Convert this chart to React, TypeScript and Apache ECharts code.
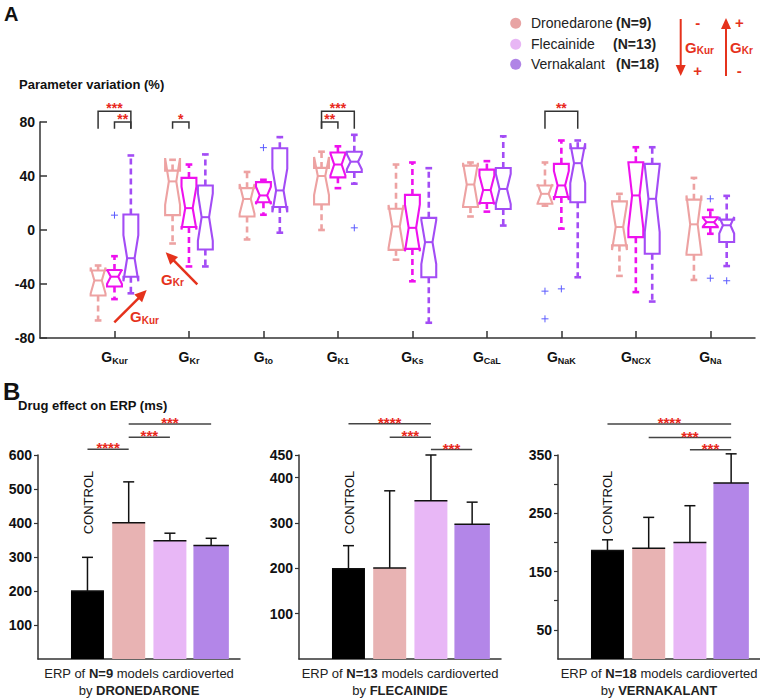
import React, { useEffect, useRef } from 'react';
import * as echarts from 'echarts';

const FONT = '"Liberation Sans", Arial, Helvetica, sans-serif';

// ---------- Panel A data ----------
const paramLabels = ['Kur', 'Kr', 'to', 'K1', 'Ks', 'CaL', 'NaK', 'NCX', 'Na'];
const drugNames = ['Dronedarone', 'Flecainide', 'Vernakalant'];
const drugN = [9, 13, 18];
// [min whisker, q1, median, q3, max whisker] per parameter
const dronedaroneStats = [
  [-67, -48.5, -37.4, -30, -26.3],
  [-10, 11, 36, 44, 52],
  [-7, 10, 23, 31, 43],
  [0, 19, 40, 46, 58],
  [-22, -14.7, 2.6, 15.7, 48.5],
  [10, 17, 33.7, 47.7, 50],
  [18, 19.4, 26.8, 33, 50],
  [-34, -11.4, 2.2, 21.2, 26.8],
  [-37, -18.3, 4.2, 22.5, 38.6],
];
const flecainideStats = [
  [-51.2, -41.9, -34.6, -29.6, -19.4],
  [-27, 2.2, 16.2, 38.6, 48.5],
  [11.3, 20.6, 25.6, 35.5, 37.2],
  [31, 39, 48.5, 57.4, 62],
  [-38, -14, 1.6, 26, 50],
  [13.6, 20, 29.6, 44.7, 51],
  [1, 24.4, 33, 49, 66.3],
  [-46, -5.3, 25.6, 50.2, 61.3],
  [-2.8, 2.1, 5.8, 9.5, 14.9],
];
const vernakalantStats = [
  [-46.9, -34.6, -20.9, 11.5, 55.2],
  [-27, -14.4, 9.5, 33, 56],
  [-2, 17, 29.3, 60.6, 68.8],
  [34.3, 43, 50.6, 58, 70.5],
  [-68.7, -35, -9, 9, 45.8],
  [3.3, 15.6, 30.4, 45.9, 69.4],
  [-35, 20.6, 49.5, 60.6, 66.3],
  [-53, -17.6, 23.1, 49, 61.3],
  [-26.7, -8.9, 3.5, 7.7, 25.3],
];
// outliers: [parameter index, value]
const dronedaroneOutliers = [[6, -45.3], [6, -65.8]];
const flecainideOutliers = [[0, 11], [2, 61], [6, -43.6], [8, 23.1], [8, -35.7]];
const vernakalantOutliers = [[3, 1.6], [8, -37.6]];
// significance brackets: [parameter index, drug from, drug to]
const bracketPairs = [[0, 0, 2], [0, 1, 2], [1, 0, 1], [3, 0, 2], [3, 0, 1], [6, 0, 2]];
const bracketTops = [88, 80, 80, 88, 80, 88];
const bracketStars = ['***', '**', '*', '***', '**', '**'];
const yTicksA = [-80, -40, 0, 40, 80];

// ---------- Panel B data ----------
const erpCategories = ['CONTROL', 'Dronedarone', 'Flecainide', 'Vernakalant'];
const erpDronedaroneMean = [200, 401, 348, 334];
const erpDronedaroneSD = [99, 120, 22, 21];
const erpFlecainideMean = [199, 201, 349, 297];
const erpFlecainideSD = [51, 170, 101, 49];
const erpVernakalantMean = [186, 190, 200, 302];
const erpVernakalantSD = [18.5, 53, 63, 50];
const erpDronedaroneTicks = [100, 200, 300, 400, 500, 600];
const erpFlecainideTicks = [100, 200, 300, 400, 450];
const erpVernakalantTicks = [50, 100, 150, 200, 250, 300, 350];
const erpVernakalantLabels = [50, 150, 250, 350];
const sigDronedarone = { pairs: [[0, 1], [1, 2], [1, 3]], y: [617, 652, 691], stars: ['****', '***', '***'] };
const sigFlecainide = { pairs: [[0, 2], [1, 2], [2, 3]], y: [519, 489, 462], stars: ['****', '***', '***'] };
const sigVernakalant = { pairs: [[0, 3], [1, 3], [2, 3]], y: [403, 380, 359], stars: ['****', '***', '***'] };

// ---------- styles ----------
const boxColors = ['#eda2a2', '#ee11ee', '#a34cf5'];
const legendColors = ['#e8a4a4', '#e8b6f5', '#b084e6'];
const barColors = ['#000000', '#e8b3b3', '#e8b7f6', '#b386e8'];
const offsets = [-0.22, 0, 0.22];
const RED = '#e5321c';
const STAR = '#e8281c';
const AXIS = '#333';
const TXT = '#111';

function boxSeries(stats: number[][], n: number, di: number) {
  const color = boxColors[di];
  return {
    type: 'custom',
    name: drugNames[di],
    xAxisIndex: 0,
    yAxisIndex: 0,
    clip: false,
    data: stats.map((s, i) => [i + 1 + offsets[di], ...s]),
    encode: { x: 0, y: [1, 2, 3, 4, 5] },
    renderItem: (params: any, api: any) => {
      const x = api.value(0), mn = api.value(1), q1 = api.value(2), md = api.value(3), q3 = api.value(4), mx = api.value(5);
      const hw = 0.1, cw = 0.045;
      const d = (1.57 * (q3 - q1)) / Math.sqrt(n);
      const nlo = md - d, nhi = md + d;
      const P = (a: number, b: number) => api.coord([a, b]);
      const pts = [P(x - hw, q1), P(x - hw, nlo), P(x - hw / 2, md), P(x - hw, nhi), P(x - hw, q3),
        P(x + hw, q3), P(x + hw, nhi), P(x + hw / 2, md), P(x + hw, nlo), P(x + hw, q1)];
      const ln = (a: number[], b: number[], w: number, dash?: boolean) => {
        const style: any = { stroke: color, lineWidth: w };
        if (dash) style.lineDash = [6, 4];
        return { type: 'line', shape: { x1: a[0], y1: a[1], x2: b[0], y2: b[1] }, style };
      };
      return {
        type: 'group',
        children: [
          ln(P(x, q3), P(x, mx), 2.6, true),
          ln(P(x, q1), P(x, mn), 2.6, true),
          ln(P(x - cw, mx), P(x + cw, mx), 2.6),
          ln(P(x - cw, mn), P(x + cw, mn), 2.6),
          { type: 'polygon', shape: { points: pts }, style: { fill: 'none', stroke: color, lineWidth: 2.1 } },
          ln(P(x - hw / 2, md), P(x + hw / 2, md), 2),
        ],
      };
    },
  };
}

function outlierSeries(list: number[][], di: number) {
  return {
    type: 'custom',
    xAxisIndex: 0,
    yAxisIndex: 0,
    data: list.map((o) => [o[0] + 1 + offsets[di], o[1]]),
    encode: { x: 0, y: 1 },
    renderItem: (params: any, api: any) => {
      const p = api.coord([api.value(0), api.value(1)]);
      const s = 3.5;
      const st = { stroke: '#5b5bff', lineWidth: 1 };
      return {
        type: 'group',
        children: [
          { type: 'line', shape: { x1: p[0] - s, y1: p[1], x2: p[0] + s, y2: p[1] }, style: st },
          { type: 'line', shape: { x1: p[0], y1: p[1] - s, x2: p[0], y2: p[1] + s }, style: st },
        ],
      };
    },
  };
}

function bracketSeries() {
  return {
    type: 'custom',
    xAxisIndex: 0,
    yAxisIndex: 0,
    clip: false,
    data: bracketPairs.map((b, i) => [b[0] + 1 + offsets[b[1]], b[0] + 1 + offsets[b[2]], bracketTops[i], 75]),
    encode: { x: [0, 1], y: [2, 3] },
    renderItem: (params: any, api: any) => {
      const a = api.coord([api.value(0), api.value(2)]);
      const b = api.coord([api.value(1), api.value(2)]);
      const a2 = api.coord([api.value(0), api.value(3)]);
      const b2 = api.coord([api.value(1), api.value(3)]);
      return {
        type: 'group',
        children: [
          { type: 'polyline', shape: { points: [a2, a, b, b2] }, style: { stroke: '#333', lineWidth: 1.5, fill: 'none' } },
          {
            type: 'text', x: (a[0] + b[0]) / 2, y: a[1] - 3.5,
            style: { text: bracketStars[params.dataIndex], fill: STAR, fontSize: 14, fontWeight: 'bold', fontFamily: FONT, align: 'center', verticalAlign: 'middle' },
          },
        ],
      };
    },
  };
}

function barSeries(k: number, means: number[], sds: number[]) {
  return {
    type: 'custom',
    xAxisIndex: k,
    yAxisIndex: k,
    clip: false,
    data: means.map((m, i) => [i + 1, m, m + sds[i]]),
    encode: { x: 0, y: [1, 2] },
    renderItem: (params: any, api: any) => {
      const i = params.dataIndex;
      const x = api.value(0), m = api.value(1), top = api.value(2);
      const hw = i === 3 ? 0.43 : 0.4;
      const p0 = api.coord([x - hw, m]);
      const p1 = api.coord([x + hw, 0]);
      const c = api.coord([x, m]);
      const t = api.coord([x, top]);
      const ls = { stroke: '#111', lineWidth: 1.5 };
      return {
        type: 'group',
        children: [
          { type: 'rect', shape: { x: p0[0], y: p0[1], width: p1[0] - p0[0], height: p1[1] - p0[1] }, style: { fill: barColors[i] } },
          { type: 'line', shape: { x1: p0[0], y1: p0[1], x2: p1[0], y2: p0[1] }, style: ls },
          { type: 'line', shape: { x1: c[0], y1: c[1], x2: t[0], y2: t[1] }, style: ls },
          { type: 'line', shape: { x1: t[0] - 5.5, y1: t[1], x2: t[0] + 5.5, y2: t[1] }, style: ls },
        ],
      };
    },
  };
}

function sigSeries(k: number, sig: { pairs: number[][]; y: number[]; stars: string[] }) {
  return {
    type: 'custom',
    xAxisIndex: k,
    yAxisIndex: k,
    clip: false,
    data: sig.pairs.map((p, i) => [p[0] + 1, p[1] + 1, sig.y[i]]),
    encode: { x: [0, 1], y: 2 },
    renderItem: (params: any, api: any) => {
      const a = api.coord([api.value(0), api.value(2)]);
      const b = api.coord([api.value(1), api.value(2)]);
      return {
        type: 'group',
        children: [
          { type: 'line', shape: { x1: a[0], y1: a[1], x2: b[0], y2: b[1] }, style: { stroke: '#444', lineWidth: 1.5 } },
          {
            type: 'text', x: (a[0] + b[0]) / 2, y: a[1] - 1.5,
            style: { text: sig.stars[params.dataIndex], fill: STAR, fontSize: 15, fontWeight: 'bold', fontFamily: FONT, align: 'center', verticalAlign: 'middle' },
          },
        ],
      };
    },
  };
}

function arrow(x1: number, y1: number, x2: number, y2: number, lw: number, hl: number, hw: number) {
  const dx = x2 - x1, dy = y2 - y1, L = Math.hypot(dx, dy), ux = dx / L, uy = dy / L;
  const bx = x2 - ux * hl, by = y2 - uy * hl;
  return [
    { type: 'line', shape: { x1, y1, x2: bx + ux * 1, y2: by + uy * 1 }, style: { stroke: RED, lineWidth: lw } },
    { type: 'polygon', shape: { points: [[x2, y2], [bx - uy * hw, by + ux * hw], [bx + uy * hw, by - ux * hw]] }, style: { fill: RED } },
  ];
}

// rich text for axis labels (label model uses "color")
const axisRich = (g: number, s: number, color: string) => ({
  g: { fontSize: g, fontWeight: 'bold', fontFamily: FONT, color, lineHeight: g + 2 },
  s: { fontSize: s, fontWeight: 'bold', fontFamily: FONT, color, lineHeight: s + 1, verticalAlign: 'bottom' },
});
// rich text for graphic elements (zrender uses "fill")
const gfxRich = (g: number, s: number, color: string) => ({
  g: { fontSize: g, fontWeight: 'bold', fontFamily: FONT, fill: color, lineHeight: g + 2 },
  s: { fontSize: s, fontWeight: 'bold', fontFamily: FONT, fill: color, lineHeight: s + 1, verticalAlign: 'bottom' },
});

function bAxes(k: number, max: number, ticks: number[], labels: number[], drug: string, n: number) {
  const x = {
    type: 'value', gridIndex: k, min: -0.2, max: 4.7,
    splitLine: { show: false },
    axisLine: { onZero: false, lineStyle: { color: AXIS, width: 1.5 } },
    axisTick: { show: false },
    axisLabel: { show: false },
    name: `{n|ERP of }{b|N=${n}}{n| models cardioverted}\n{n|by }{b|${drug.toUpperCase()}}`,
    nameLocation: 'middle',
    nameGap: 6,
    nameTextStyle: {
      rich: {
        n: { fontSize: 13, fontFamily: FONT, color: '#222', lineHeight: 17 },
        b: { fontSize: 13, fontFamily: FONT, fontWeight: 'bold', color: '#222', lineHeight: 17 },
      },
    },
  };
  const y = {
    type: 'value', gridIndex: k, min: 0, max,
    splitLine: { show: false },
    axisLine: { show: true, onZero: false, lineStyle: { color: AXIS, width: 1.5 } },
    axisTick: { show: true, length: 4, customValues: ticks, lineStyle: { color: AXIS, width: 1.2 } },
    axisLabel: { customValues: labels, margin: 6, fontSize: 14, fontWeight: 'bold', fontFamily: FONT, color: TXT },
  };
  return { x, y };
}

export default function App() {
  const ref = useRef<HTMLDivElement>(null);
  useEffect(() => {
    if (!ref.current) return;
    const chart = echarts.init(ref.current, null, { renderer: 'svg' });

    const b1 = bAxes(1, 600, erpDronedaroneTicks, erpDronedaroneTicks, 'Dronedarone', drugN[0]);
    const b2 = bAxes(2, 450, erpFlecainideTicks, erpFlecainideTicks, 'Flecainide', drugN[1]);
    const b3 = bAxes(3, 350, erpVernakalantTicks, erpVernakalantLabels, 'Vernakalant', drugN[2]);

    const legendEls: any[] = [];
    const nX = [616, 613, 616];
    const rowsY = [23.3, 44.3, 64.3];
    drugNames.forEach((d, i) => {
      legendEls.push({ type: 'circle', shape: { cx: 515.7, cy: rowsY[i], r: 5.5 }, style: { fill: legendColors[i] } });
      legendEls.push({ type: 'text', x: 531, y: rowsY[i], style: { text: d, fontSize: 14, fontFamily: FONT, fill: '#222', verticalAlign: 'middle' } });
      legendEls.push({ type: 'text', x: nX[i], y: rowsY[i], style: { text: `(N=${drugN[i]})`, fontSize: 14, fontWeight: 'bold', fontFamily: FONT, fill: '#222', verticalAlign: 'middle' } });
    });
    const sign = (t: string, x: number, y: number) => ({
      type: 'text', x, y, style: { text: t, fontSize: 15, fontWeight: 'bold', fontFamily: FONT, fill: RED, align: 'center', verticalAlign: 'middle' },
    });

    const graphic: any[] = [
      { type: 'text', x: 4, y: 14, style: { text: 'A', fontSize: 20, fontWeight: 'bold', fontFamily: FONT, fill: TXT, verticalAlign: 'middle' } },
      { type: 'text', x: 19, y: 84, style: { text: 'Parameter variation (%)', fontSize: 13, fontWeight: 'bold', fontFamily: FONT, fill: TXT, verticalAlign: 'middle' } },
      { type: 'text', x: 3, y: 391, style: { text: 'B', fontSize: 24, fontWeight: 'bold', fontFamily: FONT, fill: TXT, verticalAlign: 'middle' } },
      { type: 'text', x: 18, y: 405, style: { text: 'Drug effect on ERP (ms)', fontSize: 13, fontWeight: 'bold', fontFamily: FONT, fill: TXT, verticalAlign: 'middle' } },
      ...legendEls,
      ...arrow(680.7, 19, 680.7, 76, 2, 11, 5),
      ...arrow(726, 76, 726, 18, 2, 11, 5),
      sign('-', 697.7, 22), sign('+', 697.7, 70), sign('+', 739.3, 22), sign('-', 739.3, 70),
      { type: 'text', x: 685, y: 47, style: { text: '{g|G}{s|Kur}', rich: gfxRich(15, 10, RED), fill: RED, verticalAlign: 'middle' } },
      { type: 'text', x: 730, y: 47, style: { text: '{g|G}{s|Kr}', rich: gfxRich(15, 10, RED), fill: RED, verticalAlign: 'middle' } },
      ...arrow(114.3, 322.3, 146.7, 290, 2.5, 12, 5.5),
      ...arrow(197.3, 284.3, 165.7, 252.3, 2.5, 12, 5.5),
      { type: 'text', x: 144.5, y: 316.7, style: { text: '{g|G}{s|Kur}', rich: gfxRich(15, 10, RED), fill: RED, align: 'center', verticalAlign: 'middle' } },
      { type: 'text', x: 172.5, y: 279.3, style: { text: '{g|G}{s|Kr}', rich: gfxRich(15, 10, RED), fill: RED, align: 'center', verticalAlign: 'middle' } },
      ...[88, 349.5, 607.3].map((x) => ({
        type: 'text', x, y: 502.5, rotation: Math.PI / 2,
        style: { text: erpCategories[0], fontSize: 13, fontFamily: FONT, fill: TXT, align: 'center', verticalAlign: 'middle' },
      })),
    ];

    const ints = paramLabels.map((_, i) => i + 1);

    chart.setOption({
      animation: false,
      backgroundColor: '#fff',
      grid: [
        { left: 40, top: 122, width: 715, height: 216 },
        { left: 38, top: 455, width: 202, height: 204 },
        { left: 299, top: 455, width: 202, height: 204 },
        { left: 558, top: 455, width: 202, height: 204 },
      ],
      xAxis: [
        {
          type: 'value', gridIndex: 0, min: 0, max: 9.6, interval: 1,
          splitLine: { show: false },
          axisLine: { onZero: false, lineStyle: { color: AXIS, width: 1.5 } },
          axisTick: { inside: true, length: 7, customValues: ints, lineStyle: { color: AXIS, width: 1.5 } },
          axisLabel: {
            customValues: ints, margin: 11,
            formatter: (v: number) => {
              const i = Math.round(v) - 1;
              return i >= 0 && i < paramLabels.length ? `{g|G}{s|${paramLabels[i]}}` : '';
            },
            rich: axisRich(14, 9, TXT),
          },
        },
        b1.x, b2.x, b3.x,
      ],
      yAxis: [
        {
          type: 'value', gridIndex: 0, min: -80, max: 80, interval: 40,
          splitLine: { show: false },
          axisLine: { show: true, onZero: false, lineStyle: { color: AXIS, width: 1.5 } },
          axisTick: { show: true, inside: true, length: 7, customValues: yTicksA, lineStyle: { color: AXIS, width: 1.5 } },
          axisLabel: { customValues: yTicksA, margin: 5, fontSize: 14, fontWeight: 'bold', fontFamily: FONT, color: TXT },
        },
        b1.y, b2.y, b3.y,
      ],
      series: [
        boxSeries(dronedaroneStats, drugN[0], 0),
        boxSeries(flecainideStats, drugN[1], 1),
        boxSeries(vernakalantStats, drugN[2], 2),
        outlierSeries(dronedaroneOutliers, 0),
        outlierSeries(flecainideOutliers, 1),
        outlierSeries(vernakalantOutliers, 2),
        bracketSeries(),
        barSeries(1, erpDronedaroneMean, erpDronedaroneSD),
        barSeries(2, erpFlecainideMean, erpFlecainideSD),
        barSeries(3, erpVernakalantMean, erpVernakalantSD),
        sigSeries(1, sigDronedarone),
        sigSeries(2, sigFlecainide),
        sigSeries(3, sigVernakalant),
      ],
      graphic,
    });
    return () => chart.dispose();
  }, []);
  return <div ref={ref} style={{ position: 'absolute', left: 0, top: 0, width: 760, height: 698 }} />;
}
